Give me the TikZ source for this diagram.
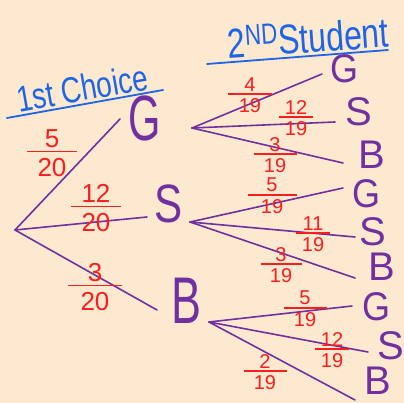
\documentclass[tikz,border=0pt]{standalone}
\usepackage{fontspec}
\setmainfont{Liberation Sans}
\definecolor{bgpeach}{RGB}{253,233,207}
\definecolor{penpurple}{RGB}{112,48,160}
\definecolor{penred}{RGB}{250,30,30}
\definecolor{penblue}{RGB}{30,100,230}
% #1 bar width, #2 kern above bar, #3 kern below bar, #4 numerator, #5 denominator
\newcommand{\myfrac}[5]{\vbox{\offinterlineskip\halign{\hfil##\hfil\cr #4\cr\noalign{\kern#2}\rule{#1}{1.5pt}\cr\noalign{\kern#3}#5\cr}}}
\newcommand{\frA}[3]{\myfrac{#1}{3pt}{6pt}{#2}{#3}}
\newcommand{\frB}[3]{\myfrac{#1}{2pt}{4pt}{#2}{#3}}
\newcommand{\narrow}[2]{\scalebox{#1}[1]{#2}}
\begin{document}
\begin{tikzpicture}[x=1pt,y=-1pt,
  branch/.style={draw=penpurple,line width=1.6pt,line cap=round},
  uline/.style={draw=penblue,line width=1.8pt,line cap=round},
  bigletter/.style={text=penpurple,font=\fontsize{64}{64}\selectfont,inner sep=0pt},
  letter/.style={text=penpurple,font=\fontsize{40}{40}\selectfont,inner sep=0pt},
  fracA/.style={text=penred,font=\fontsize{26}{30}\selectfont,inner sep=0pt},
  fracB/.style={text=penred,font=\fontsize{20}{24}\selectfont,inner sep=0pt},
  title/.style={text=penblue,inner sep=0pt}]
\useasboundingbox[fill=bgpeach] (0,0) rectangle (404,403);

% headings
\node[title,rotate=10,font=\fontsize{28}{30}\selectfont] (h1) at (82,88) {\scalebox{1}[1.3]{1st Choice}};
\coordinate (u1a) at (7,118); \coordinate (u1b) at (163,90);
\draw[uline] (u1a) -- (u1b);
\node[title,rotate=4,font=\fontsize{32}{34}\selectfont] (h2) at (308,37) {\scalebox{1}[1.3]{2\textsuperscript{ND}Student}};
\coordinate (u2a) at (207,64); \coordinate (u2b) at (388,50);
\draw[uline] (u2a) -- (u2b);

% first level
\coordinate (r0) at (15,230);
\coordinate (eG1) at (120,119);
\coordinate (eS1) at (147,217);
\coordinate (eB1) at (157,310);
\node[bigletter] (G1) at (145,118) {\narrow{0.65}{G}};
\node[bigletter,font=\fontsize{54}{54}\selectfont] (S1) at (169,204) {\narrow{0.78}{S}};
\node[bigletter,font=\fontsize{66}{66}\selectfont] (B1) at (186,301) {\narrow{0.68}{B}};
\draw[branch] (r0) -- (eG1);
\draw[branch] (r0) -- (eS1);
\draw[branch] (r0) -- (eB1);
\node[fracA] (f1) at (52,153) {\frA{50pt}{5}{20}};
\node[fracA] (f2) at (96,208) {\frA{50pt}{12}{20}};
\node[fracA] (f3) at (95,287) {\frA{54pt}{3}{20}};

% G branch
\coordinate (rG) at (192,128);
\coordinate (eGG) at (322,74);
\coordinate (eGS) at (335,122);
\coordinate (eGB) at (343,163);
\node[letter] (GG) at (344,69) {\narrow{0.9}{G}};
\node[letter] (GS) at (359,112) {S};
\node[letter] (GB) at (372,155) {B};
\draw[branch] (rG) -- (eGG);
\draw[branch] (rG) -- (eGS);
\draw[branch] (rG) -- (eGB);
\node[fracB] (g1) at (250,95) {\frB{44pt}{4}{19}};
\node[fracB] (g2) at (296,118) {\frB{34pt}{12}{19}};
\node[fracB] (g3) at (275,155) {\frB{43pt}{3}{19}};

% S branch
\coordinate (rS) at (190,222);
\coordinate (eSG) at (343,188);
\coordinate (eSS) at (355,237);
\coordinate (eSB) at (355,278);
\node[letter] (SG) at (366,194) {\narrow{0.9}{G}};
\node[letter] (SS) at (373,232) {S};
\node[letter] (SB) at (382,267) {B};
\draw[branch] (rS) -- (eSG);
\draw[branch] (rS) -- (eSS);
\draw[branch] (rS) -- (eSB);
\node[fracB] (s1) at (272,196) {\frB{49pt}{5}{19}};
\node[fracB] (s2) at (313,234) {\frB{34pt}{11}{19}};
\node[fracB] (s3) at (281,265) {\frB{41pt}{3}{19}};

% B branch
\coordinate (rB) at (209,322);
\coordinate (eBG) at (352,306);
\coordinate (eBS) at (368,352);
\coordinate (eBB) at (355,400);
\node[letter] (BG) at (376,307) {\narrow{0.9}{G}};
\node[letter] (BS) at (391,346) {S};
\node[letter] (BB) at (378,381) {B};
\draw[branch] (rB) -- (eBG);
\draw[branch] (rB) -- (eBS);
\draw[branch] (rB) -- (eBB);
\node[fracB] (b1) at (305,309) {\frB{43pt}{5}{19}};
\node[fracB] (b2) at (332,350) {\frB{34pt}{12}{19}};
\node[fracB] (b3) at (265,372) {\frB{43pt}{2}{19}};
\end{tikzpicture}
\end{document}
